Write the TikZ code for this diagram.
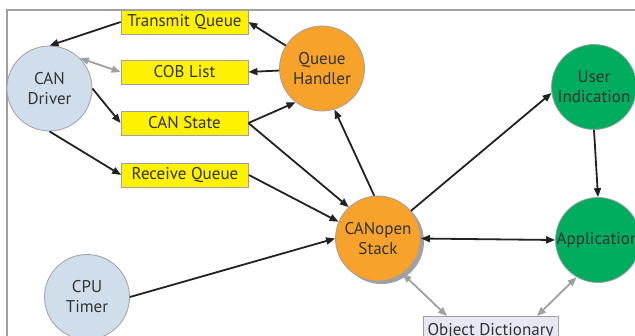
\documentclass[tikz,border=0pt]{standalone}
\usepackage{fontspec}
\setmainfont{PT Sans}
\usetikzlibrary{arrows.meta}
\definecolor{txt}{HTML}{333333}
\definecolor{cblue}{HTML}{D0DEEC}
\definecolor{corange}{HTML}{F7A22B}
\definecolor{cgreen}{HTML}{00AD5F}
\definecolor{cyellow}{HTML}{FFF200}
\definecolor{clav}{HTML}{E8E8F4}
\definecolor{cline}{HTML}{222222}
\definecolor{cgray}{HTML}{A0A0A0}
\tikzset{
  circ/.style={circle, draw=cgray, line width=0.8bp, minimum size=85bp, inner sep=0pt, align=center, text=txt, font=\fontsize{17bp}{20bp}\selectfont},
  ybox/.style={rectangle, draw=cgray, line width=0.8bp, fill=cyellow, minimum width=127bp, minimum height=24bp, inner sep=0pt, text=txt, font=\fontsize{17bp}{20bp}\selectfont},
  conn/.style={draw=cline, line width=1.8bp, -{Triangle[length=9bp,width=7bp]}},
  gconn/.style={draw=cgray, line width=1.8bp, {Triangle[length=9bp,width=7bp]}-{Triangle[length=9bp,width=7bp]}},
}
\begin{document}
\begin{tikzpicture}[x=1bp,y=-1bp]
\useasboundingbox (0,0) rectangle (635,335);
\clip (0,0) rectangle (635,335);
\fill[white] (0,0) rectangle (635,335);
\draw[cgray, line width=1.2bp] (7,10) rectangle (700,400);
% nodes
\node[circ, fill=cblue] (drv) at (49.5,88.5) {CAN\\Driver};
\node[circ, fill=cblue] (cpu) at (87,297) {CPU\\Timer};
\node[circ, fill=corange] (qh) at (322,68.5) {Queue\\Handler};
\fill[cgray] (381.5,241.5) circle (42.5bp);
\node[circ, fill=corange] (stk) at (378,238.5) {CANopen\\Stack};
\node[circ, fill=cgreen] (ui) at (594,87) {User\\Indication};
\node[circ, fill=cgreen] (app) at (598,240) {Application};
\node[ybox] (tq) at (184.5,22) {Transmit Queue};
\node[ybox] (cob) at (184.5,72) {COB List};
\node[ybox] (cs) at (184.5,123) {CAN State};
\node[ybox] (rq) at (185,175) {Receive Queue};
\node[rectangle, draw=cgray, line width=0.8bp, fill=clav, minimum width=135bp, minimum height=30bp, inner sep=0pt, anchor=north west, text=txt, font=\fontsize{17bp}{20bp}\selectfont, text depth=0pt, text height=12bp] (od) at (423,316) {};
\node[text=txt, font=\fontsize{17bp}{20bp}\selectfont, anchor=base] (odt) at (490.5,335) {Object Dictionary};
% connectors
\draw[conn] (tq.west) -- (drv.north);
\draw[conn] (qh) -- (tq.east);
\draw[gconn] (drv.45) -- (cob.west);
\draw[conn] (qh) -- (cob.east);
\draw[conn] (drv.east) -- (cs.west);
\draw[conn] (cs.east) -- (qh.232);
\draw[conn] (cs.east) -- (stk.133);
\draw[conn] (drv.south) -- (rq.west);
\draw[conn] (rq.east) -- (stk.157);
\draw[conn] (stk.95) -- (qh.287);
\draw[conn] (stk.40) -- (ui.188);
\draw[conn] (ui.south) -- (app.north);
\draw[draw=cline, line width=1.8bp, {Triangle[length=9bp,width=7bp]}-{Triangle[length=9bp,width=7bp]}] (stk.east) -- (app.west);
\draw[conn] (cpu.east) -- (stk.west);
\draw[gconn] (stk.-55) -- (od.north west -| 447,0);
\draw[gconn] (app.-120) -- (537,316);
\end{tikzpicture}
\end{document}
